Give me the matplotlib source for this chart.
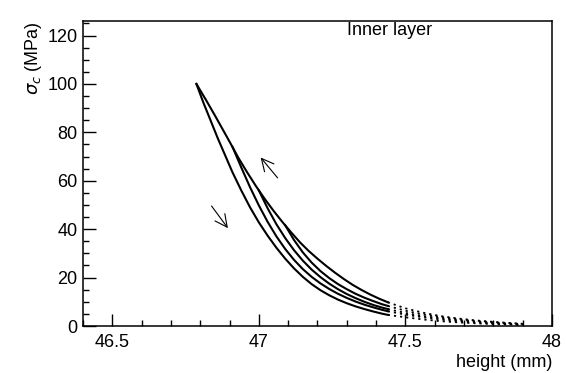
import matplotlib.pyplot as plt
from matplotlib.ticker import MultipleLocator

# ---- data (height in mm, stress in MPa) ----
# outer (envelope) curve, solid part
env_x = [46.787, 46.82, 46.85, 46.88, 46.903, 46.93, 46.96, 46.99, 47.02, 47.05, 47.08,
         47.11, 47.14, 47.17, 47.2, 47.23, 47.26, 47.29, 47.32, 47.35, 47.38, 47.41, 47.44]
env_y = [100, 93.3, 87, 80.5, 75.5, 69.5, 63.5, 57.8, 52.5, 47.6, 43.0,
         38.7, 34.6, 31.0, 27.8, 24.8, 22.0, 19.4, 17.0, 14.9, 13.0, 11.3, 9.8]

# lowest curve (unloading from the peak)
low_x = [46.787, 46.81, 46.835, 46.86, 46.885, 46.91, 46.94, 46.97, 47.0, 47.03, 47.06,
         47.09, 47.12, 47.15, 47.18, 47.21, 47.24, 47.27, 47.3, 47.33, 47.36, 47.39, 47.42, 47.44]
low_y = [100, 92.5, 85, 77.5, 70.5, 63.5, 56, 49, 42.8, 37.3, 32.3,
         27.8, 23.8, 20.3, 17.3, 14.8, 12.7, 10.9, 9.4, 8.1, 7.0, 6.0, 5.1, 4.6]

# three inner curves branching off the envelope
b_x = [46.91, 46.94, 46.97, 47.0, 47.03, 47.06, 47.09, 47.12, 47.15, 47.18, 47.21,
       47.24, 47.27, 47.3, 47.33, 47.36, 47.39, 47.42, 47.44]
b_y = [74, 65.5, 57.3, 49.8, 43.0, 37.0, 31.8, 27.3, 23.5, 20.3, 17.6,
       15.3, 13.3, 11.6, 10.1, 8.8, 7.7, 6.7, 6.1]

c_x = [47.0, 47.03, 47.06, 47.09, 47.12, 47.15, 47.18, 47.21, 47.24, 47.27, 47.3,
       47.33, 47.36, 47.39, 47.42, 47.44]
c_y = [56.0, 48.6, 42.0, 36.3, 31.3, 27.0, 23.3, 20.2, 17.5, 15.2, 13.2,
       11.5, 10.0, 8.7, 7.6, 7.0]

d_x = [47.09, 47.12, 47.15, 47.18, 47.21, 47.24, 47.27, 47.3, 47.33, 47.36, 47.39, 47.42, 47.44]
d_y = [41.6, 35.5, 30.4, 26.2, 22.7, 19.8, 17.3, 15.2, 13.3, 11.7, 10.3, 9.0, 8.3]

# dotted tails near zero stress
tail_x = [47.44, 47.5, 47.56, 47.62, 47.68, 47.74, 47.8, 47.86, 47.9]
env_tail = [9.8, 7.3, 5.5, 4.1, 3.1, 2.3, 1.7, 1.2, 0.9]
d_tail = [8.3, 6.3, 4.8, 3.7, 2.8, 2.1, 1.5, 1.1, 0.8]
c_tail = [7.0, 5.4, 4.1, 3.2, 2.4, 1.8, 1.3, 0.9, 0.7]
b_tail = [6.1, 4.7, 3.6, 2.7, 2.0, 1.5, 1.1, 0.8, 0.6]
low_tail = [4.6, 3.6, 2.7, 2.0, 1.5, 1.1, 0.8, 0.6, 0.4]

xticks = [46.5, 47, 47.5, 48]
xtick_labels = ["46.5", "47", "47.5", "48"]
yticks = [0, 20, 40, 60, 80, 100, 120]

plt.rcParams["font.family"] = ["Liberation Sans", "DejaVu Sans"]

fig = plt.figure(figsize=(5.66, 3.73), dpi=100)
ax = fig.add_axes([0.1466, 0.126, 0.8287, 0.8177])

for xs, ys in [(env_x, env_y), (low_x, low_y), (b_x, b_y), (c_x, c_y), (d_x, d_y)]:
    ax.plot(xs, ys, color="black", lw=1.5, solid_joinstyle="round")
for ys in [env_tail, low_tail, b_tail, c_tail, d_tail]:
    ax.plot(tail_x, ys, color="black", lw=1.3, ls=(0, (1.2, 2.2)))

# loading / unloading arrows
ax.annotate("", xy=(47.0, 70.5), xytext=(47.07, 60.3),
            arrowprops=dict(arrowstyle="->", lw=0.8, color="black", mutation_scale=22))
ax.annotate("", xy=(46.9, 39.5), xytext=(46.833, 50.5),
            arrowprops=dict(arrowstyle="->", lw=0.8, color="black", mutation_scale=22))

ax.text(47.445, 122, "Inner layer", fontsize=13, ha="center", va="center")

ax.set_xlim(46.4, 48)
ax.set_ylim(0, 126)
ax.set_xticks(xticks)
ax.set_xticklabels(xtick_labels)
ax.set_yticks(yticks)
ax.xaxis.set_minor_locator(MultipleLocator(0.1))
ax.yaxis.set_minor_locator(MultipleLocator(5))
ax.tick_params(which="major", direction="in", length=9, width=1, labelsize=13, pad=4)
ax.tick_params(which="minor", direction="in", length=4.5, width=1)
ax.tick_params(axis="x", pad=6)

for s in ax.spines.values():
    s.set_linewidth(1.1)

ax.set_xlabel("height (mm)", fontsize=13, loc="right", labelpad=2)
ax.set_ylabel(r"$\sigma_c$ (MPa)", fontsize=13, loc="top", labelpad=2)

fig.savefig("out.png", dpi=100)
